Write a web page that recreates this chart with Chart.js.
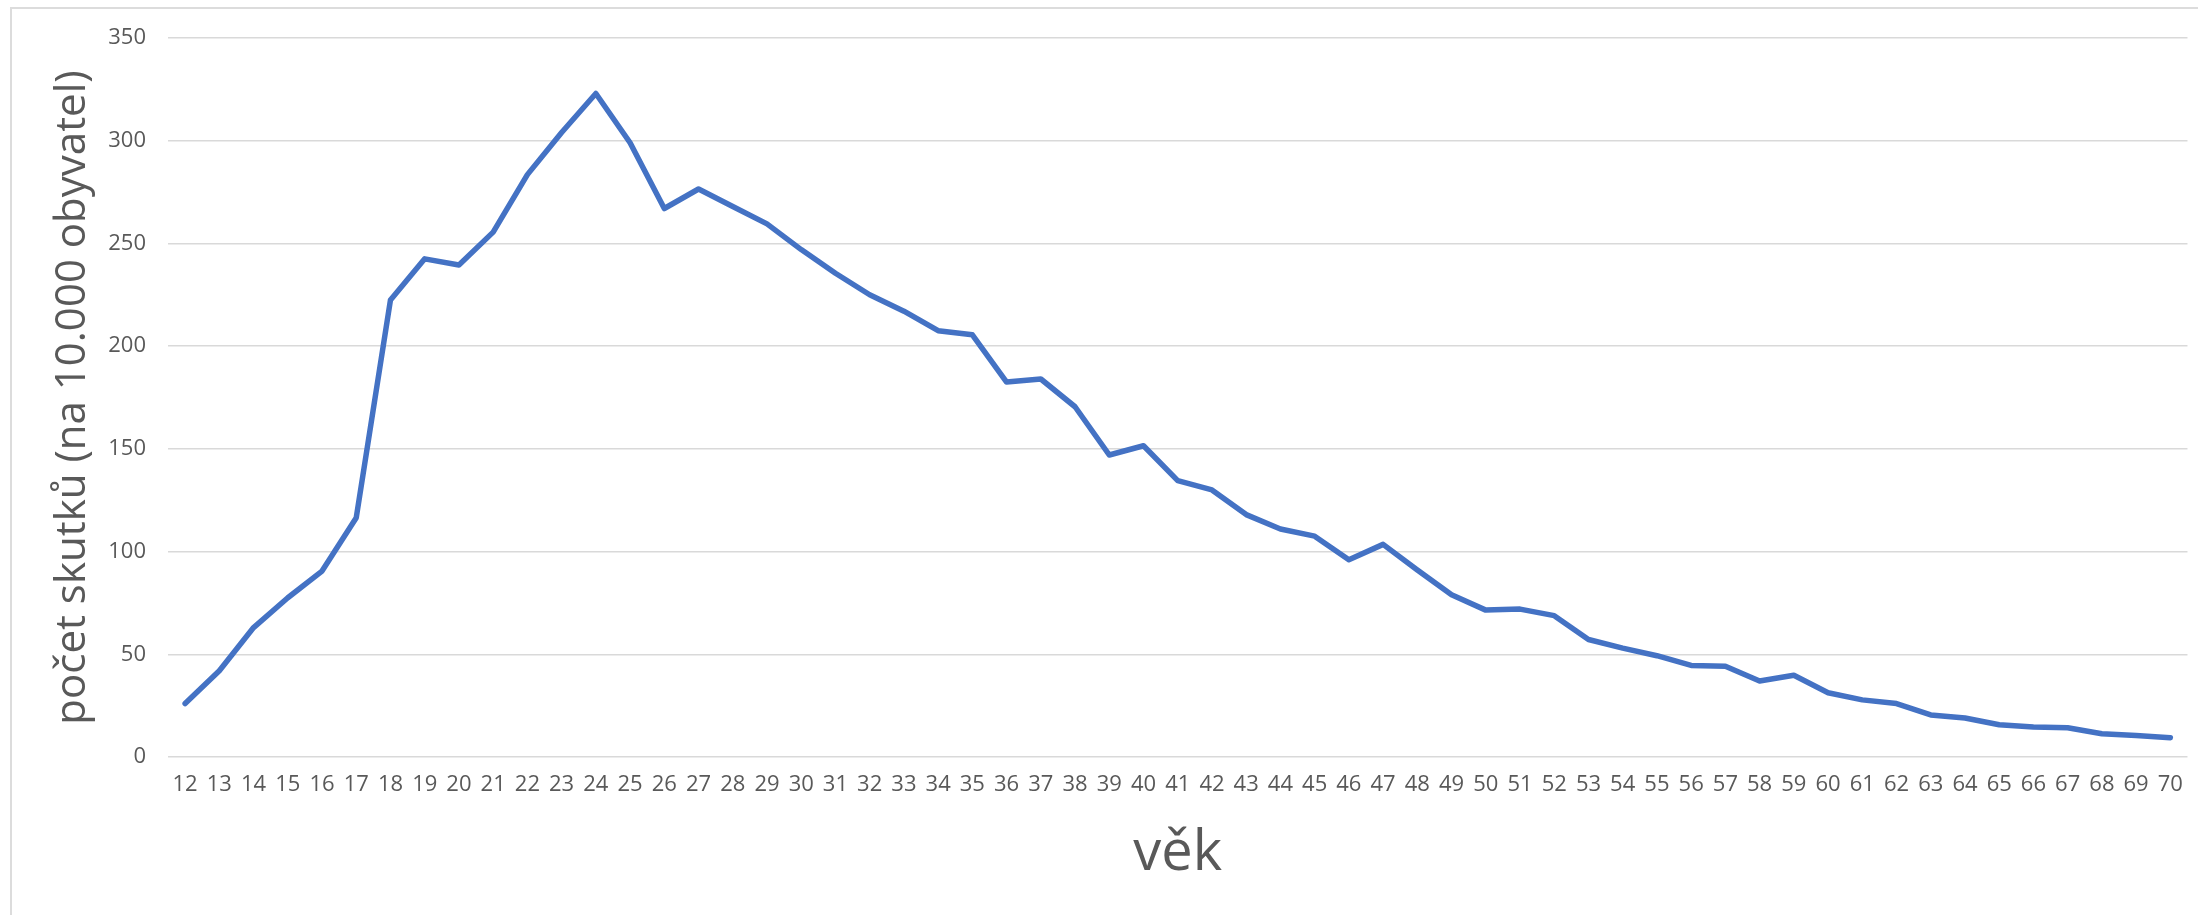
<!DOCTYPE html>
<html>
<head>
<meta charset="utf-8">
<script src="https://cdn.jsdelivr.net/npm/chart.js@4.4.1/dist/chart.umd.min.js"></script>
<style>
    html, body { margin: 0; padding: 0; background: #fff; overflow: hidden; }
    #frame {
        position: absolute; left: 10px; top: 7px;
        width: 2220px; height: 940px;
        border: 2px solid #dcdcdc;
    }
    #ageChart { position: absolute; left: 0; top: 0; }
</style>
</head>
<body>
<div id="frame"></div>
<canvas id="ageChart" width="2198" height="915"></canvas>
<script>
// age categories (věk)
const ages = [];
for (let a = 12; a <= 70; a++) ages.push(String(a));

// number of offences per 10 000 inhabitants
const offences = [
    26, 42, 63, 77.5, 90.5, 116.5, 222.5, 242.5, 239.5, 255.5,
    283.5, 304, 323, 299, 267, 276.5, 268, 259.5, 247, 235.5,
    225, 217, 207.5, 205.5, 182.5, 184, 170.5, 147, 151.5, 134.5,
    130, 118, 111, 107.5, 96, 103.5, 91, 79, 71.5, 72,
    68.8, 57.2, 53, 49.3, 44.6, 44.2, 37, 39.8, 31.3, 27.8,
    26, 20.5, 19, 15.7, 14.6, 14.2, 11.3, 10.5, 9.4
];

const yTicks = [0, 50, 100, 150, 200, 250, 300, 350];

const xTitle = 'věk';
const yTitle = 'počet skutků (na 10.000 obyvatel)';

const fontFamily = '"Open Sans", sans-serif';
const textColor = '#595959';

function renderChart() {
    const ctx = document.getElementById('ageChart').getContext('2d');

    new Chart(ctx, {
        type: 'line',
        data: {
            labels: ages,
            datasets: [{
                label: yTitle,
                data: offences,
                borderColor: '#4472c4',
                borderWidth: 5.5,
                borderJoinStyle: 'round',
                borderCapStyle: 'round',
                pointRadius: 0,
                tension: 0,
                fill: false
            }]
        },
        options: {
            responsive: false,
            animation: false,
            layout: {
                padding: { left: 0, right: 8, top: 38, bottom: 0 }
            },
            plugins: {
                legend: { display: false },
                tooltip: { enabled: false }
            },
            scales: {
                x: {
                    offset: true,
                    grid: { display: false, drawTicks: false },
                    border: { display: false },
                    ticks: {
                        autoSkip: false,
                        maxRotation: 0,
                        padding: 15,
                        color: textColor,
                        font: { family: fontFamily, size: 22 }
                    },
                    title: {
                        display: true,
                        text: xTitle,
                        color: textColor,
                        font: { family: fontFamily, size: 56 },
                        padding: { top: 0, bottom: 27 }
                    },
                    afterFit: scale => { scale.height = 158; }
                },
                y: {
                    min: 0,
                    max: 350,
                    afterBuildTicks: scale => {
                        scale.ticks = yTicks.map(v => ({ value: v }));
                    },
                    grid: { color: '#d9d9d9', lineWidth: 1.5, drawTicks: false },
                    border: { display: false },
                    ticks: {
                        padding: 22,
                        color: textColor,
                        font: { family: fontFamily, size: 22 }
                    },
                    title: {
                        display: true,
                        text: yTitle,
                        color: textColor,
                        font: { family: fontFamily, size: 42 },
                        padding: { top: 48, bottom: 0 }
                    },
                    afterFit: scale => { scale.width = 168; }
                }
            }
        }
    });
}

document.addEventListener('DOMContentLoaded', renderChart);
</script>
</body>
</html>
